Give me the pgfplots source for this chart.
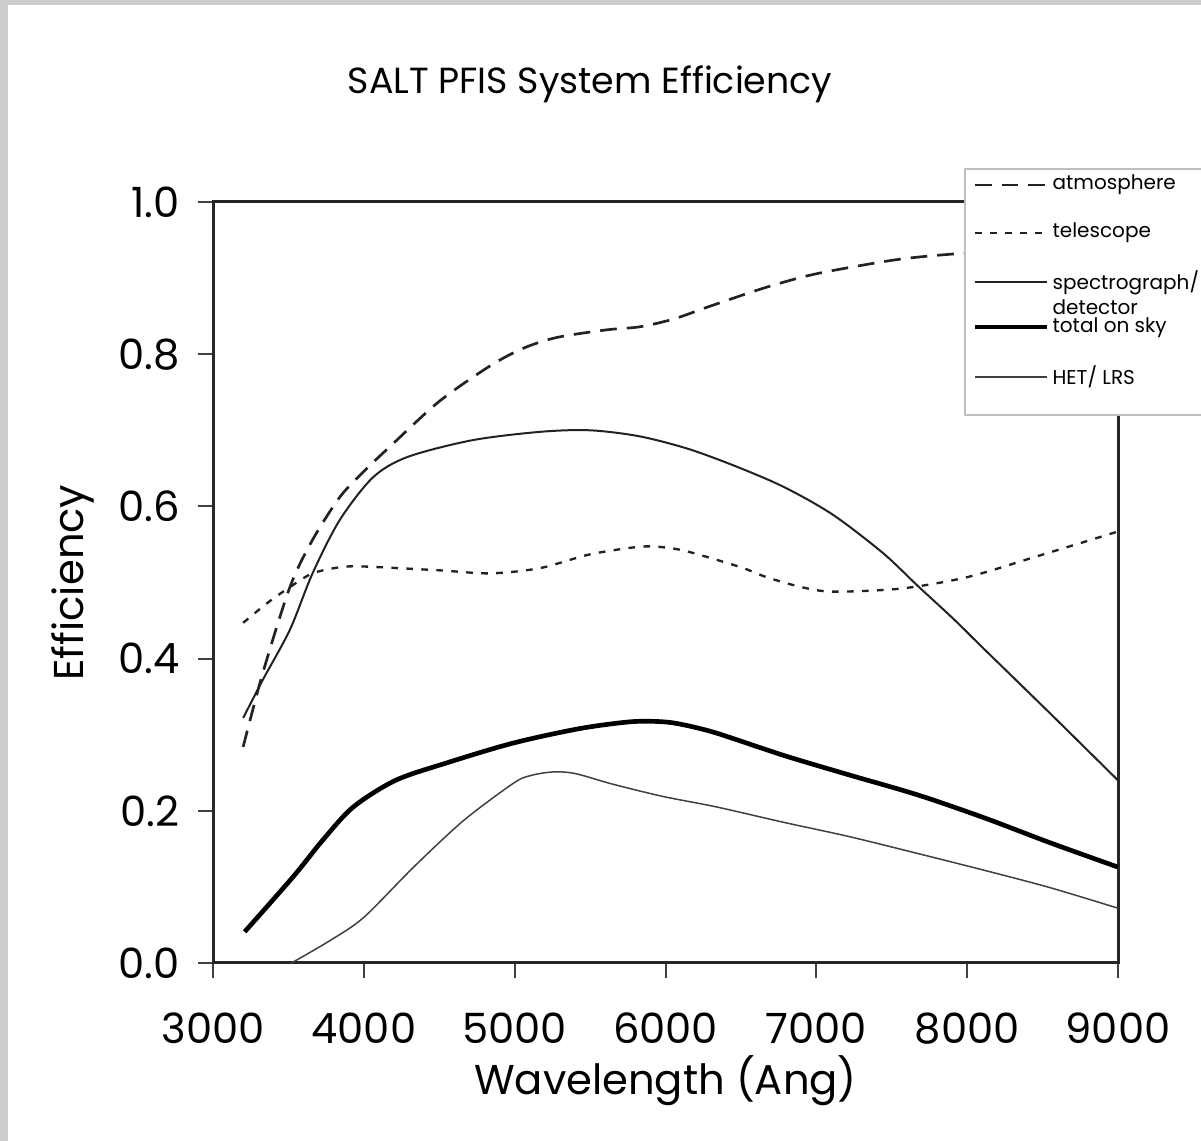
\documentclass[border=0pt]{standalone}
\usepackage{fontspec}
\setmainfont{Poppins}
\usepackage{pgfplots}
\pgfplotsset{compat=1.18}

\definecolor{framegray}{RGB}{204,204,204}
\definecolor{ink}{RGB}{34,34,34}

\begin{document}
\begin{tikzpicture}
% page: 1201 x 1141 px at 0.3bp per px
\fill[white] (0,0) rectangle (360.3bp,342.3bp);
\fill[framegray] (0,0) rectangle (2.4bp,342.3bp);
\fill[framegray] (0,340.8bp) rectangle (360.3bp,342.3bp);
\clip (0,0) rectangle (360.3bp,342.3bp);

\begin{axis}[
  at={(63.9bp,53.4bp)}, anchor=south west,
  scale only axis, width=271.5bp, height=228.3bp,
  xmin=3000, xmax=9000, ymin=0, ymax=1,
  xtick={3000,4000,5000,6000,7000,8000,9000},
  ytick={0,0.2,0.4,0.6,0.8,1},
  scaled x ticks=false,
  xticklabel style={/pgf/number format/1000 sep={}, font=\fontsize{12.5bp}{14bp}\selectfont, yshift=-7bp},
  yticklabel style={/pgf/number format/fixed, /pgf/number format/fixed zerofill,
    /pgf/number format/precision=1, font=\fontsize{12.5bp}{14bp}\selectfont, xshift=-2bp},
  /pgf/number format/assume math mode=true,
  tick align=outside, major tick length=4.5bp,
  xtick pos=bottom, ytick pos=left,
  tick style={black!75, line width=0.6bp},
  axis line style={black!85, line width=0.9bp},
  xlabel={Wavelength (Ang)}, ylabel={Efficiency},
  xlabel style={font=\fontsize{12.5bp}{14bp}\selectfont, at={(axis description cs:0.5,-0.154)}, anchor=center},
  ylabel style={font=\fontsize{12.5bp}{14bp}\selectfont, at={(axis description cs:-0.155,0.5)}, anchor=center},
  clip=false,
]
% atmosphere
\addplot[ink, line width=0.8bp, dash pattern=on 5bp off 3bp, smooth] coordinates {
(3200,0.284) (3330,0.381) (3510,0.494) (3660,0.556) (3840,0.612) (4000,0.646)
(4170,0.678) (4500,0.738) (4840,0.785) (5060,0.808) (5280,0.822) (5610,0.832)
(5830,0.836) (6050,0.846) (6280,0.862) (6500,0.877) (6670,0.888) (6900,0.901)
(7110,0.910) (7560,0.925) (8000,0.933) (8500,0.938) (9000,0.940)};
% telescope
\addplot[ink, line width=0.7bp, dash pattern=on 2bp off 2.5bp, smooth] coordinates {
(3200,0.447) (3360,0.473) (3510,0.494) (3660,0.512) (3840,0.520) (4000,0.521)
(4500,0.516) (4840,0.512) (5170,0.519) (5500,0.537) (5830,0.547) (6000,0.546)
(6160,0.540) (6500,0.520) (6670,0.507) (6900,0.494) (7110,0.488) (7560,0.492)
(8000,0.507) (8440,0.533) (9000,0.567)};
% spectrograph/detector
\addplot[ink, line width=0.6bp, smooth] coordinates {
(3200,0.322) (3330,0.372) (3510,0.438) (3660,0.512) (3840,0.582) (4060,0.638)
(4290,0.665) (4720,0.687) (5170,0.698) (5500,0.700) (5830,0.692) (6160,0.675)
(6500,0.650) (6800,0.624) (7110,0.589) (7440,0.539) (7670,0.496) (7910,0.452)
(8110,0.413) (8550,0.328) (9000,0.240)};
% total on sky
\addplot[black, line width=1.4bp, smooth] coordinates {
(3210,0.041) (3530,0.113) (3730,0.162) (3930,0.205) (4210,0.240) (4550,0.263)
(4990,0.289) (5430,0.308) (5770,0.317) (5980,0.317) (6120,0.313) (6340,0.302)
(6780,0.273) (7220,0.247) (7670,0.221) (8110,0.191) (8550,0.158) (9000,0.126)};
% HET/LRS
\addplot[black!75, line width=0.45bp, smooth] coordinates {
(3520,0.000) (3780,0.030) (4000,0.060) (4330,0.126) (4660,0.187) (4990,0.236)
(5100,0.246) (5250,0.251) (5400,0.249) (5650,0.235) (5980,0.219) (6340,0.205)
(6780,0.185) (7220,0.166) (7670,0.144) (8110,0.122) (8550,0.099) (9000,0.072)};
\end{axis}

% title and legend, in reference pixel coordinates
\begin{scope}[x=0.3bp, y=-0.3bp, yshift=342.3bp]
\node[font=\fontsize{10.9bp}{12bp}\selectfont] at (590,84) {SALT PFIS System Efficiency};
\draw[fill=white, draw=black!25, line width=0.6bp] (965,169) rectangle (1230,415);
\begin{scope}[every node/.style={anchor=west, inner sep=0pt, font=\fontsize{6bp}{7bp}\selectfont}]
\draw[ink, line width=0.8bp, dash pattern=on 5bp off 3bp] (975,185) -- (1047,185);
\node at (1052,185) {atmosphere};
\draw[ink, line width=0.7bp, dash pattern=on 2bp off 2.5bp] (975,233) -- (1047,233);
\node at (1052,233) {telescope};
\draw[ink, line width=0.6bp] (975,282) -- (1047,282);
\node at (1052,283) {spectrograph/};
\node at (1052,307) {detector};
\draw[black, line width=1.4bp] (975,327) -- (1047,327);
\node at (1052,328) {total on sky};
\draw[black!75, line width=0.45bp] (975,377) -- (1047,377);
\node at (1052,377) {HET/ LRS};
\end{scope}
\end{scope}
\end{tikzpicture}
\end{document}
